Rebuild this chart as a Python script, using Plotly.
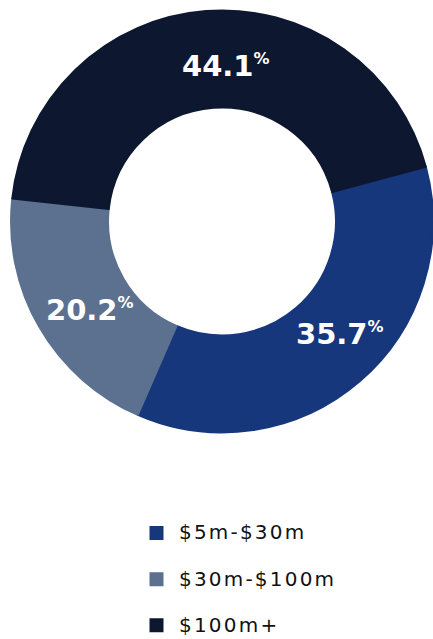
import plotly.graph_objects as go

categories = ["$5m-$30m", "$30m-$100m", "$100m+"]
shares = [35.7, 20.2, 44.1]
colors = ["#17377C", "#5B718F", "#0D1730"]
# label anchor points (paper fractions) for the share labels
label_x = [340 / 433, 90 / 433, 226 / 433]
label_y = [1 - 334 / 639, 1 - 310 / 639, 1 - 66 / 639]

legend_labels = [
    "<span style='font-size:20px;letter-spacing:2.2px'>%s</span><br> " % c
    for c in categories
]

fig = go.Figure(
    go.Pie(
        labels=legend_labels,
        values=shares,
        sort=False,
        direction="clockwise",
        rotation=75,
        hole=0.540,
        marker=dict(colors=colors, line=dict(color=colors, width=2)),
        textinfo="none",
        hoverinfo="value",
        domain=dict(x=[11 / 433, 1.0], y=[0.3232, 0.9836]),
    )
)

for v, x, y in zip(shares, label_x, label_y):
    fig.add_annotation(
        x=x,
        y=y,
        xref="paper",
        yref="paper",
        xanchor="center",
        yanchor="middle",
        showarrow=False,
        text="%.1f<sup><span style='font-size:16px'>%%</span></sup>" % v,
        font=dict(family="DejaVu Sans", size=29, color="white", weight="bold"),
    )

fig.update_layout(
    width=433,
    height=639,
    margin=dict(l=0, r=0, t=0, b=0, autoexpand=False),
    paper_bgcolor="white",
    plot_bgcolor="white",
    showlegend=True,
    legend=dict(
        x=134 / 433,
        xanchor="left",
        y=1 - 515.7 / 639,
        yanchor="top",
        valign="top",
        font=dict(family="DejaVu Sans", size=16.6, color="#111111"),
        itemwidth=35,
        bgcolor="rgba(0,0,0,0)",
    ),
)

fig.write_html(
    "out.html",
    config={"displayModeBar": False},
    post_script="document.body.style.margin='0';document.body.style.overflow='hidden';",
)
